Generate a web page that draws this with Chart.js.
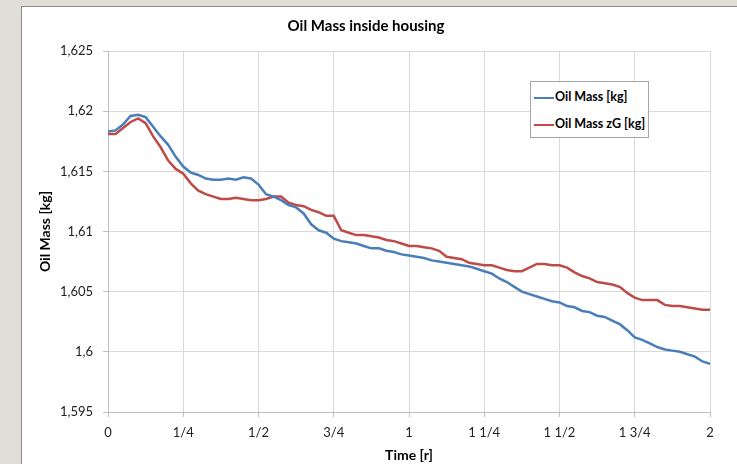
<!DOCTYPE html>
<html>
<head>
<meta charset="utf-8">
<script src="https://cdn.jsdelivr.net/npm/chart.js@4"></script>
<style>
  html, body { margin: 0; padding: 0; }
  body { width: 737px; height: 464px; background: #e1ded8; position: relative; overflow: hidden; }
  .panel { position: absolute; left: 21px; top: 6px; width: 716px; height: 458px; background: #fff; border-left: 1px solid #8c8c8c; border-top: 1px solid #8c8c8c; }
  .wrap { position: absolute; left: 0; top: 0; width: 716px; height: 458px; }
  .legend { position: absolute; left: 508px; top: 74px; width: 117px; height: 55px; border: 1px solid #a6a6a6; background: #fff;
            font: bold 12.5px Lato, sans-serif; color: #000; }
  .legend div { position: absolute; left: 3px; height: 14px; line-height: 14px; white-space: nowrap; }
  .legend span { display: inline-block; width: 20px; height: 2px; vertical-align: middle; margin-right: 1px; }
</style>
</head>
<body>
<div class="panel">
  <div class="wrap"><canvas id="chart"></canvas></div>
  <div class="legend" id="legend"></div>
</div>
<script>
// time in revolutions
const times = [
  0, 0.025, 0.05, 0.075, 0.1, 0.125, 0.15, 0.175, 0.2, 0.225,
  0.25, 0.275, 0.3, 0.325, 0.35, 0.375, 0.4, 0.425, 0.45, 0.475,
  0.5, 0.525, 0.55, 0.575, 0.6, 0.625, 0.65, 0.675, 0.7, 0.725,
  0.75, 0.775, 0.8, 0.825, 0.85, 0.875, 0.9, 0.925, 0.95, 0.975,
  1, 1.025, 1.05, 1.075, 1.1, 1.125, 1.15, 1.175, 1.2, 1.225,
  1.25, 1.275, 1.3, 1.325, 1.35, 1.375, 1.4, 1.425, 1.45, 1.475,
  1.5, 1.525, 1.55, 1.575, 1.6, 1.625, 1.65, 1.675, 1.7, 1.725,
  1.75, 1.775, 1.8, 1.825, 1.85, 1.875, 1.9, 1.925, 1.95, 1.975,
  2];
const oilMass = [
  1.6183, 1.6184, 1.6189, 1.6196, 1.6197, 1.6195, 1.6187, 1.6179, 1.6172, 1.6162,
  1.6154, 1.6149, 1.6147, 1.6144, 1.6143, 1.6143, 1.6144, 1.6143, 1.6145, 1.6144,
  1.6139, 1.6131, 1.6129, 1.6126, 1.6122, 1.6120, 1.6115, 1.6106, 1.6101, 1.6099,
  1.6094, 1.6092, 1.6091, 1.6090, 1.6088, 1.6086, 1.6086, 1.6084, 1.6083, 1.6081,
  1.6080, 1.6079, 1.6078, 1.6076, 1.6075, 1.6074, 1.6073, 1.6072, 1.6071, 1.6069,
  1.6067, 1.6065, 1.6061, 1.6058, 1.6054, 1.6050, 1.6048, 1.6046, 1.6044, 1.6042,
  1.6041, 1.6038, 1.6037, 1.6034, 1.6033, 1.6030, 1.6029, 1.6026, 1.6023, 1.6018,
  1.6012, 1.6010, 1.6007, 1.6004, 1.6002, 1.6001, 1.6000, 1.5998, 1.5996, 1.5992,
  1.5990];
const oilMassZG = [
  1.6181, 1.6181, 1.6186, 1.6191, 1.6194, 1.6190, 1.6179, 1.6170, 1.6159, 1.6152,
  1.6148, 1.6140, 1.6134, 1.6131, 1.6129, 1.6127, 1.6127, 1.6128, 1.6127, 1.6126,
  1.6126, 1.6127, 1.6129, 1.6129, 1.6124, 1.6122, 1.6121, 1.6118, 1.6116, 1.6113,
  1.6113, 1.6101, 1.6099, 1.6097, 1.6097, 1.6096, 1.6095, 1.6093, 1.6092, 1.6090,
  1.6088, 1.6088, 1.6087, 1.6086, 1.6084, 1.6079, 1.6078, 1.6077, 1.6074, 1.6073,
  1.6072, 1.6072, 1.6070, 1.6068, 1.6067, 1.6067, 1.6070, 1.6073, 1.6073, 1.6072,
  1.6072, 1.6070, 1.6066, 1.6063, 1.6061, 1.6058, 1.6057, 1.6056, 1.6054, 1.6049,
  1.6045, 1.6043, 1.6043, 1.6043, 1.6039, 1.6038, 1.6038, 1.6037, 1.6036, 1.6035,
  1.6035];
const xTickLabels = ["0", "1/4", "1/2", "3/4", "1", "1 1/4", "1 1/2", "1 3/4", "2"];
const yTickLabels = ["1,595", "1,6", "1,605", "1,61", "1,615", "1,62", "1,625"];

const seriesNames = ["Oil Mass [kg]", "Oil Mass zG [kg]"];
const seriesColors = ["#4a7ebb", "#be4b48"];

const ctx = document.getElementById("chart").getContext("2d");
const chart = new Chart(ctx, {
  type: "line",
  data: {
    datasets: [
      {
        label: seriesNames[0],
        data: times.map((t, i) => ({ x: t, y: oilMass[i] })),
        borderColor: seriesColors[0],
        borderWidth: 2.5,
        pointRadius: 0,
        tension: 0
      },
      {
        label: seriesNames[1],
        data: times.map((t, i) => ({ x: t, y: oilMassZG[i] })),
        borderColor: seriesColors[1],
        borderWidth: 2.5,
        pointRadius: 0,
        tension: 0
      }
    ]
  },
  options: {
    responsive: true,
    maintainAspectRatio: false,
    animation: false,
    layout: { padding: { left: 0, right: 28, top: 0, bottom: 0 } },
    plugins: {
      legend: { display: false },
      tooltip: { enabled: false },
      title: {
        display: true,
        text: "Oil Mass inside housing",
        color: "#000",
        font: { family: "Lato", size: 15, weight: "bold" },
        padding: { top: 10, bottom: 16 }
      }
    },
    scales: {
      x: {
        type: "linear",
        min: 0,
        max: 2,
        afterFit: (s) => { s.height = 53; },
        afterBuildTicks: (s) => { s.ticks = xTickLabels.map((l, i) => ({ value: i * 0.25 })); },
        ticks: {
          callback: (v, i) => xTickLabels[i],
          color: "#222",
          font: { family: "Lato", size: 13 },
          padding: 8,
          maxRotation: 0
        },
        grid: { color: "#d9d9d9", tickLength: 5, tickColor: "#bfbfbf" },
        border: { color: "#bfbfbf" },
        title: {
          display: true,
          text: "Time [r]",
          color: "#000",
          font: { family: "Lato", size: 14, weight: "bold" },
          padding: { top: 0, bottom: 1 }
        }
      },
      y: {
        min: 1.595,
        max: 1.625,
        afterFit: (s) => { s.width = 86; },
        afterBuildTicks: (s) => { s.ticks = yTickLabels.map((l, i) => ({ value: 1.595 + i * 0.005 })); },
        ticks: {
          callback: (v, i) => yTickLabels[i],
          color: "#222",
          font: { family: "Lato", size: 13 },
          padding: 10
        },
        grid: { color: "#d9d9d9", tickLength: 5, tickColor: "#bfbfbf" },
        border: { color: "#bfbfbf" },
        title: {
          display: true,
          text: "Oil Mass [kg]",
          color: "#000",
          font: { family: "Lato", size: 14, weight: "bold" },
          padding: { top: 15, bottom: 0 }
        }
      }
    }
  }
});

// legend box drawn as html, built from the dataset labels/colours
const legendEl = document.getElementById("legend");
chart.data.datasets.forEach((ds, i) => {
  const row = document.createElement("div");
  row.style.top = (8 + i * 27) + "px";
  const line = document.createElement("span");
  line.style.background = ds.borderColor;
  row.appendChild(line);
  row.appendChild(document.createTextNode(ds.label));
  legendEl.appendChild(row);
});
</script>
</body>
</html>
